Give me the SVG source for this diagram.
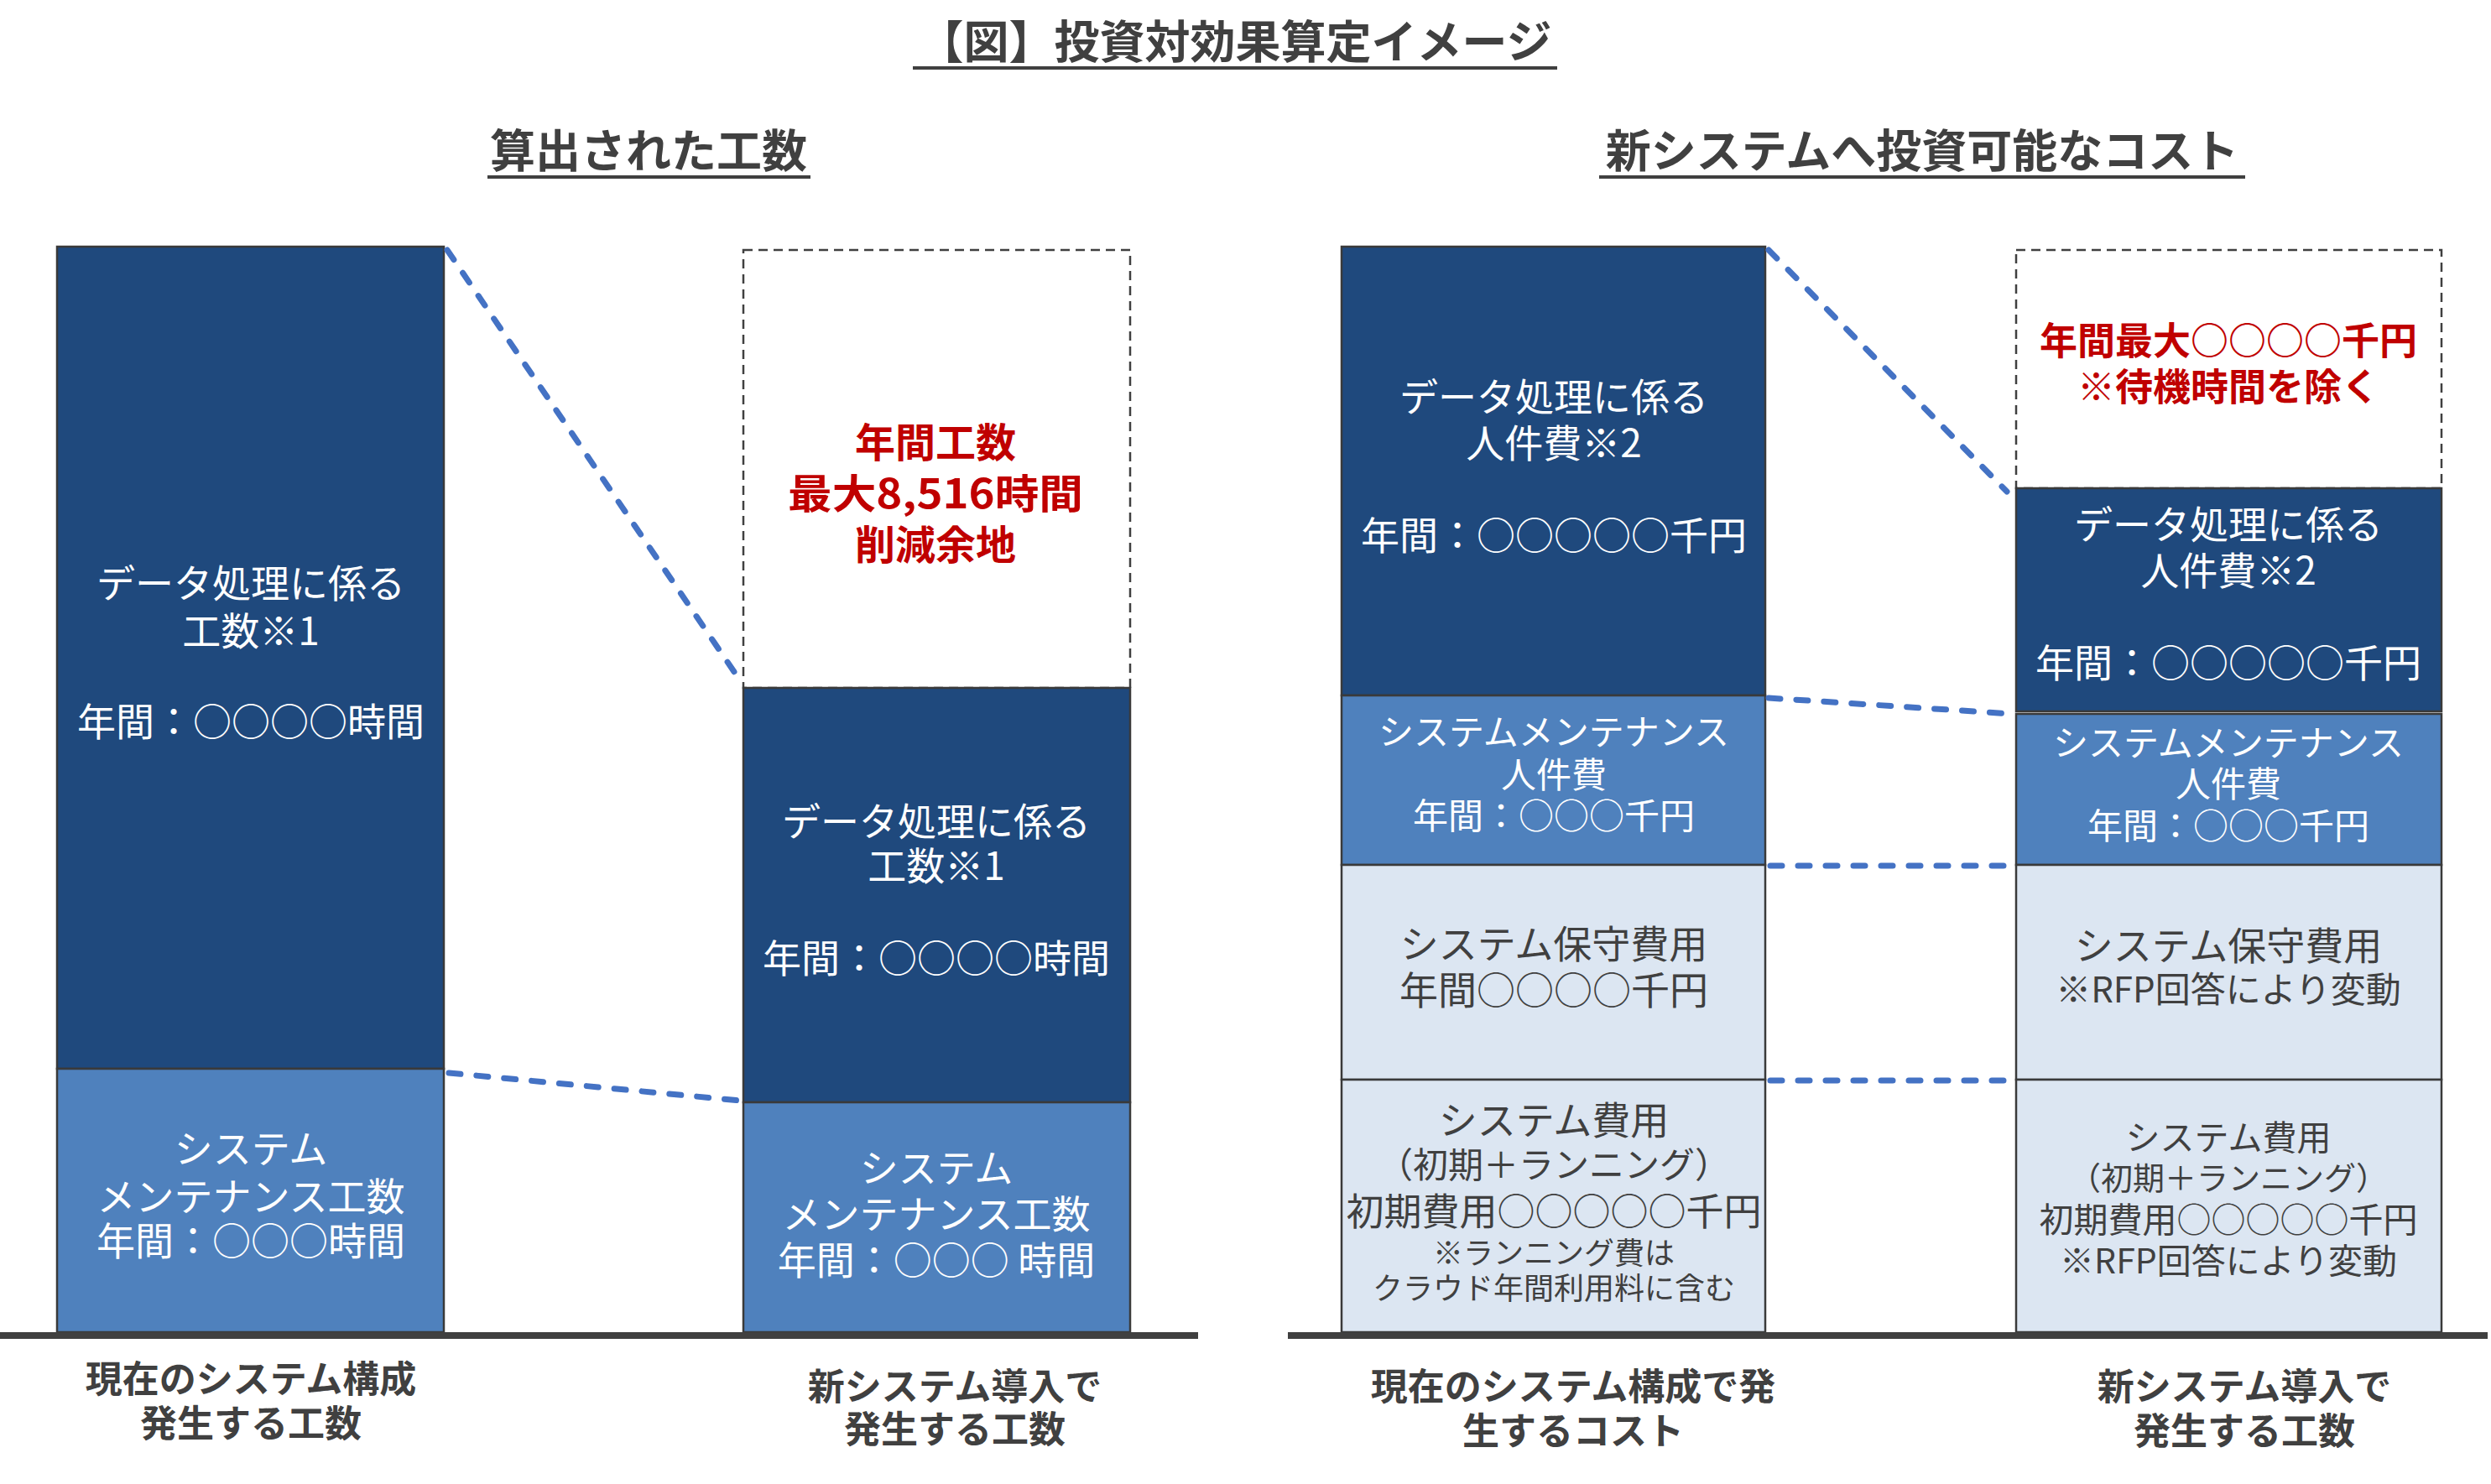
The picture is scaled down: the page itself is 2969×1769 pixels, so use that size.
<svg xmlns="http://www.w3.org/2000/svg" width="2969" height="1769" viewBox="0 0 2969 1769">
<style>
text{font-family:"Noto Sans CJK JP","Noto Sans",sans-serif;text-anchor:middle}
.h{font-weight:700;fill:#404040}
.w{fill:#FFFFFF}
.g{fill:#404040}
.r{fill:#C00000;font-weight:700}
.lb{font-weight:700;fill:#404040;font-size:44px}
.dk{fill:#1F497D;stroke:#3A3A3A;stroke-width:2.5}
.md{fill:#4F81BD;stroke:#3A3A3A;stroke-width:2.5}
.lt{fill:#DCE6F2;stroke:#3A3A3A;stroke-width:2.5}
.ds{fill:#FFFFFF;stroke:#404040;stroke-width:2.5;stroke-dasharray:11 7}
.ul{stroke:#404040;stroke-width:4}
.base{stroke:#404040;stroke-width:8}
.cn{stroke:#4472C4;stroke-width:7;stroke-dasharray:14 19;stroke-linecap:round;fill:none}
</style>

<g id="titles">
<text class="h" x="1472" y="70" font-size="54">【図】投資対効果算定イメージ</text>
<line class="ul" x1="1088" y1="81" x2="1856" y2="81"/>
<text class="h" x="773" y="200" font-size="54">算出された工数</text>
<line class="ul" x1="581" y1="211" x2="966" y2="211"/>
<text class="h" x="2291" y="200" font-size="54">新システムへ投資可能なコスト</text>
<line class="ul" x1="1906" y1="211" x2="2676" y2="211"/>
</g>

<g id="bar-current-hours">
<rect class="dk" x="68" y="294" width="461" height="980"/>
<rect class="md" x="68" y="1274" width="461" height="314"/>
<text class="w" x="299" y="712" font-size="46">データ処理に係る</text>
<text class="w" x="299" y="769" font-size="46">工数※1</text>
<text class="w" x="299" y="877" font-size="46">年間：○○○○時間</text>
<text class="w" x="299" y="1386" font-size="46">システム</text>
<text class="w" x="299" y="1443" font-size="46">メンテナンス工数</text>
<text class="w" x="299" y="1496" font-size="46">年間：○○○時間</text>
</g>

<g id="bar-new-hours">
<rect class="ds" x="886" y="298" width="461" height="522"/>
<rect class="dk" x="886" y="820" width="461" height="494"/>
<rect class="md" x="886" y="1314" width="461" height="274"/>
<text class="r" x="1115" y="545" font-size="48">年間工数</text>
<text class="r" x="1115" y="606" font-size="48" textLength="352" lengthAdjust="spacingAndGlyphs">最大8,516時間</text>
<text class="r" x="1115" y="667" font-size="48">削減余地</text>
<text class="w" x="1116" y="996" font-size="46">データ処理に係る</text>
<text class="w" x="1116" y="1049" font-size="46">工数※1</text>
<text class="w" x="1116" y="1159" font-size="46">年間：○○○○時間</text>
<text class="w" x="1116" y="1409" font-size="46">システム</text>
<text class="w" x="1116" y="1464" font-size="46">メンテナンス工数</text>
<text class="w" x="1116" y="1519" font-size="46">年間：○○○ 時間</text>
</g>

<g id="bar-current-cost">
<rect class="dk" x="1599" y="294" width="505" height="535"/>
<rect class="md" x="1599" y="829" width="505" height="202"/>
<rect class="lt" x="1599" y="1031" width="505" height="256"/>
<rect class="lt" x="1599" y="1287" width="505" height="301"/>
<text class="w" x="1852" y="490" font-size="46">データ処理に係る</text>
<text class="w" x="1852" y="545" font-size="46">人件費※2</text>
<text class="w" x="1852" y="655" font-size="46">年間：○○○○○千円</text>
<text class="w" x="1852" y="888" font-size="42">システムメンテナンス</text>
<text class="w" x="1852" y="939" font-size="42">人件費</text>
<text class="w" x="1852" y="988" font-size="42">年間：○○○千円</text>
<text class="g" x="1852" y="1142" font-size="46">システム保守費用</text>
<text class="g" x="1852" y="1197" font-size="46">年間○○○○千円</text>
<text class="g" x="1852" y="1352" font-size="46">システム費用</text>
<text class="g" x="1852" y="1404" font-size="42">（初期＋ランニング）</text>
<text class="g" x="1852" y="1461" font-size="45">初期費用○○○○○千円</text>
<text class="g" x="1852" y="1507" font-size="36">※ランニング費は</text>
<text class="g" x="1852" y="1549" font-size="36">クラウド年間利用料に含む</text>
</g>

<g id="bar-new-cost">
<rect class="ds" x="2403" y="298" width="507" height="284"/>
<rect class="dk" x="2403" y="582" width="507" height="266"/>
<rect class="md" x="2403" y="851" width="507" height="180"/>
<rect class="lt" x="2403" y="1031" width="507" height="256"/>
<rect class="lt" x="2403" y="1287" width="507" height="301"/>
<text class="r" x="2656" y="423" font-size="45">年間最大○○○○千円</text>
<text class="r" x="2656" y="478" font-size="45">※待機時間を除く</text>
<text class="w" x="2656" y="642" font-size="46">データ処理に係る</text>
<text class="w" x="2656" y="697" font-size="46">人件費※2</text>
<text class="w" x="2656" y="807" font-size="46">年間：○○○○○千円</text>
<text class="w" x="2656" y="901" font-size="42">システムメンテナンス</text>
<text class="w" x="2656" y="950" font-size="42">人件費</text>
<text class="w" x="2656" y="1000" font-size="42">年間：○○○千円</text>
<text class="g" x="2656" y="1144" font-size="46">システム保守費用</text>
<text class="g" x="2656" y="1195" font-size="42">※RFP回答により変動</text>
<text class="g" x="2656" y="1371" font-size="41">システム費用</text>
<text class="g" x="2656" y="1418" font-size="38">（初期＋ランニング）</text>
<text class="g" x="2656" y="1469" font-size="41">初期費用○○○○○千円</text>
<text class="g" x="2656" y="1518" font-size="41">※RFP回答により変動</text>
</g>

<g id="baselines">
<line class="base" x1="0" y1="1592" x2="1428" y2="1592"/>
<line class="base" x1="1535" y1="1592" x2="2965" y2="1592"/>
</g>

<g id="labels">
<text class="lb" x="299" y="1660">現在のシステム構成</text>
<text class="lb" x="299" y="1713">発生する工数</text>
<text class="lb" x="1138" y="1669">新システム導入で</text>
<text class="lb" x="1138" y="1720">発生する工数</text>
<text class="lb" x="1875" y="1669">現在のシステム構成で発</text>
<text class="lb" x="1875" y="1722">生するコスト</text>
<text class="lb" x="2675" y="1669">新システム導入で</text>
<text class="lb" x="2675" y="1722">発生する工数</text>
</g>

<g id="connectors">
<line class="cn" x1="533" y1="298" x2="884" y2="814"/>
<line class="cn" x1="535" y1="1279" x2="882" y2="1312"/>
<line class="cn" x1="2108" y1="298" x2="2392" y2="586"/>
<line class="cn" x1="2108" y1="832" x2="2398" y2="851"/>
<line class="cn" x1="2110" y1="1032" x2="2398" y2="1032"/>
<line class="cn" x1="2110" y1="1288" x2="2398" y2="1288"/>
</g>
</svg>
